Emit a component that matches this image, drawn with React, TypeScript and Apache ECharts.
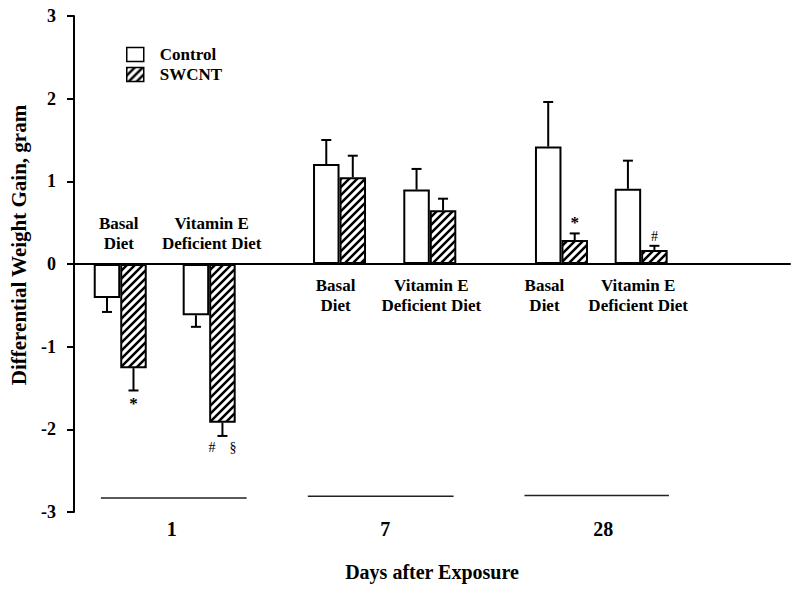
import React, { useEffect, useRef } from 'react';
import * as echarts from 'echarts';

// ---- data ----
const seriesNames = ['Control', 'SWCNT'];
const dietLabels = [
  'Basal\nDiet',
  'Vitamin E\nDeficient Diet',
  'Basal\nDiet',
  'Vitamin E\nDeficient Diet',
  'Basal\nDiet',
  'Vitamin E\nDeficient Diet',
];
// position of each diet group along the x axis (in category-slot units)
const groupX = [1.05, 3.07, 6.03, 8.08, 11.07, 12.88];
const controlValues = [-0.41, -0.62, 1.21, 0.9, 1.42, 0.91];
const controlErrors = [0.17, 0.14, 0.29, 0.25, 0.54, 0.34];
const swcntValues = [-1.26, -1.92, 1.05, 0.65, 0.29, 0.17];
const swcntErrors = [0.27, 0.16, 0.26, 0.14, 0.08, 0.05];
const swcntMarks = ['*', '#    §', '', '', '*', '#'];
const dayLabels = ['1', '7', '28'];
const dayCenters = [2.22, 7.07, 12.02];
const dayBracketStart = [0.61, 5.31, 10.23];
const dayBracketEnd = [3.92, 8.62, 13.51];
const dayBracketLevel = [-2.83, -2.81, -2.8];
const yMin = -3;
const yMax = 3;
const yInterval = 1;
const xMax = 16.26;

const FONT = "'Liberation Serif', 'Times New Roman', serif";
const BAR_W = 26.5;

function makeHatch(): HTMLCanvasElement {
  const c = document.createElement('canvas');
  c.width = 8;
  c.height = 8;
  const ctx = c.getContext('2d')!;
  ctx.fillStyle = '#ffffff';
  ctx.fillRect(0, 0, 8, 8);
  ctx.strokeStyle = '#000000';
  ctx.lineWidth = 2.5;
  ctx.beginPath();
  ctx.moveTo(-1, 9);
  ctx.lineTo(9, -1);
  ctx.moveTo(-1, 1);
  ctx.lineTo(1, -1);
  ctx.moveTo(7, 9);
  ctx.lineTo(9, 7);
  ctx.stroke();
  return c;
}

export default function App() {
  const ref = useRef<HTMLDivElement>(null);

  useEffect(() => {
    document.body.style.margin = '0';
    if (!ref.current) return;
    const chart = echarts.init(ref.current, undefined, { renderer: 'svg' });
    const hatch = makeHatch();

    const errSeries = (values: number[], errors: number[], dx: number, marks: string[] | null, name: string) => ({
      type: 'custom',
      name,
      xAxisIndex: 0,
      yAxisIndex: 0,
      silent: true,
      z: 5,
      data: groupX.map((x, i) => [x, values[i], errors[i]]),
      renderItem: (params: any, api: any) => {
        const x = api.value(0);
        const v = api.value(1);
        const e = api.value(2);
        const end = v >= 0 ? v + e : v - e;
        const p0 = api.coord([x, v]);
        const p1 = api.coord([x, end]);
        const cx = p0[0] + dx;
        const children: any[] = [
          { type: 'line', shape: { x1: cx, y1: p0[1], x2: cx, y2: p1[1] }, style: { stroke: '#000', lineWidth: 2 } },
          { type: 'line', shape: { x1: cx - 5, y1: p1[1], x2: cx + 5, y2: p1[1] }, style: { stroke: '#000', lineWidth: 2 } },
        ];
        const m = marks ? marks[params.dataIndex] : '';
        if (m) {
          const isStar = m === '*';
          children.push({
            type: 'text',
            x: cx,
            y: v >= 0 ? p1[1] - 2 : p1[1] + 5,
            style: {
              text: m,
              fill: '#000',
              fontFamily: FONT,
              fontSize: isStar ? 17 : 14,
              fontWeight: isStar ? 'bold' : 'normal',
              align: 'center',
              verticalAlign: v >= 0 ? 'bottom' : 'top',
            },
          });
        }
        return { type: 'group', children };
      },
    });

    const labelDx = [-1.5, 2.5, -4, 1.5, -17, -3];

    const option: any = {
      animation: false,
      backgroundColor: '#ffffff',
      grid: { left: 73, right: 10, top: 16, bottom: 79, containLabel: false },
      legend: {
        data: seriesNames,
        orient: 'vertical',
        left: 126,
        top: 46,
        padding: 0,
        itemWidth: 17,
        itemHeight: 14,
        itemGap: 3,
        icon: 'rect',
        selectedMode: false,
        itemStyle: { borderColor: '#000', borderWidth: 1.5 },
        textStyle: { fontFamily: FONT, fontSize: 17, fontWeight: 'bold', color: '#000', padding: [0, 0, 0, 11] },
      },
      xAxis: [
        {
          type: 'value',
          position: 'top',
          min: 0,
          max: xMax,
          axisLine: { show: true, onZero: true, lineStyle: { color: '#000', width: 2 } },
          axisTick: { show: false },
          axisLabel: { show: false },
          splitLine: { show: false },
        },
        {
          type: 'value',
          position: 'bottom',
          min: 0,
          max: xMax,
          axisLine: { show: false, onZero: false },
          axisTick: { show: false },
          splitLine: { show: false },
          axisLabel: {
            show: true,
            customValues: dayCenters,
            margin: 7,
            fontFamily: FONT,
            fontSize: 20,
            fontWeight: 'bold',
            color: '#000',
            formatter: (val: number) => {
              let best = 0;
              dayCenters.forEach((c, i) => {
                if (Math.abs(c - val) < Math.abs(dayCenters[best] - val)) best = i;
              });
              return dayLabels[best];
            },
          },
          name: 'Days after Exposure',
          nameLocation: 'middle',
          nameGap: 50,
          nameTextStyle: { fontFamily: FONT, fontSize: 20, fontWeight: 'bold', color: '#000' },
        },
      ],
      yAxis: {
        type: 'value',
        min: yMin,
        max: yMax,
        interval: yInterval,
        axisLine: { show: true, onZero: false, lineStyle: { color: '#000', width: 2 } },
        axisTick: { show: true, inside: false, length: 7, lineStyle: { color: '#000', width: 2 } },
        splitLine: { show: false },
        axisLabel: { margin: 18, fontFamily: FONT, fontSize: 18, fontWeight: 'bold', color: '#000' },
        name: 'Differential Weight Gain, gram',
        nameLocation: 'middle',
        nameRotate: 90,
        nameGap: 45,
        nameTextStyle: { fontFamily: FONT, fontSize: 21, fontWeight: 'bold', color: '#000', padding: [0, 0, 0, 38] },
      },
      series: [
        {
          type: 'bar',
          name: seriesNames[0],
          xAxisIndex: 0,
          yAxisIndex: 0,
          barWidth: BAR_W,
          barGap: '0%',
          data: groupX.map((x, i) => [x, controlValues[i]]),
          itemStyle: { color: '#ffffff', borderColor: '#000', borderWidth: 2 },
          emphasis: { disabled: true },
        },
        {
          type: 'bar',
          name: seriesNames[1],
          xAxisIndex: 0,
          yAxisIndex: 0,
          barWidth: BAR_W,
          barGap: '0%',
          data: groupX.map((x, i) => [x, swcntValues[i]]),
          itemStyle: { color: { image: hatch, repeat: 'repeat' }, borderColor: '#000', borderWidth: 2 },
          emphasis: { disabled: true },
        },
        errSeries(controlValues, controlErrors, -BAR_W / 2, null, 'ctrlErr'),
        errSeries(swcntValues, swcntErrors, BAR_W / 2, swcntMarks, 'swErr'),
        {
          type: 'custom',
          name: 'dietLabels',
          silent: true,
          xAxisIndex: 0,
          yAxisIndex: 0,
          data: groupX.map((x) => [x, 0]),
          renderItem: (params: any, api: any) => {
            const i = params.dataIndex;
            const p = api.coord([api.value(0), 0]);
            const above = controlValues[i] < 0;
            return {
              type: 'text',
              x: p[0] + labelDx[i],
              y: above ? p[1] - 31 : p[1] + 31,
              style: {
                text: dietLabels[i],
                fill: '#000',
                fontFamily: FONT,
                fontSize: 17,
                fontWeight: 'bold',
                lineHeight: 20,
                align: 'center',
                verticalAlign: 'middle',
              },
            };
          },
        },
        {
          type: 'custom',
          name: 'brackets',
          silent: true,
          xAxisIndex: 0,
          yAxisIndex: 0,
          data: dayBracketStart.map((s, i) => [s, dayBracketLevel[i], dayBracketEnd[i]]),
          renderItem: (params: any, api: any) => {
            const p0 = api.coord([api.value(0), api.value(1)]);
            const p1 = api.coord([api.value(2), api.value(1)]);
            return {
              type: 'line',
              shape: { x1: p0[0], y1: p0[1], x2: p1[0], y2: p1[1] },
              style: { stroke: '#222', lineWidth: 1.6 },
            };
          },
        },
      ],
    };

    chart.setOption(option);
    return () => chart.dispose();
  }, []);

  return <div ref={ref} style={{ width: 800, height: 591 }} />;
}
